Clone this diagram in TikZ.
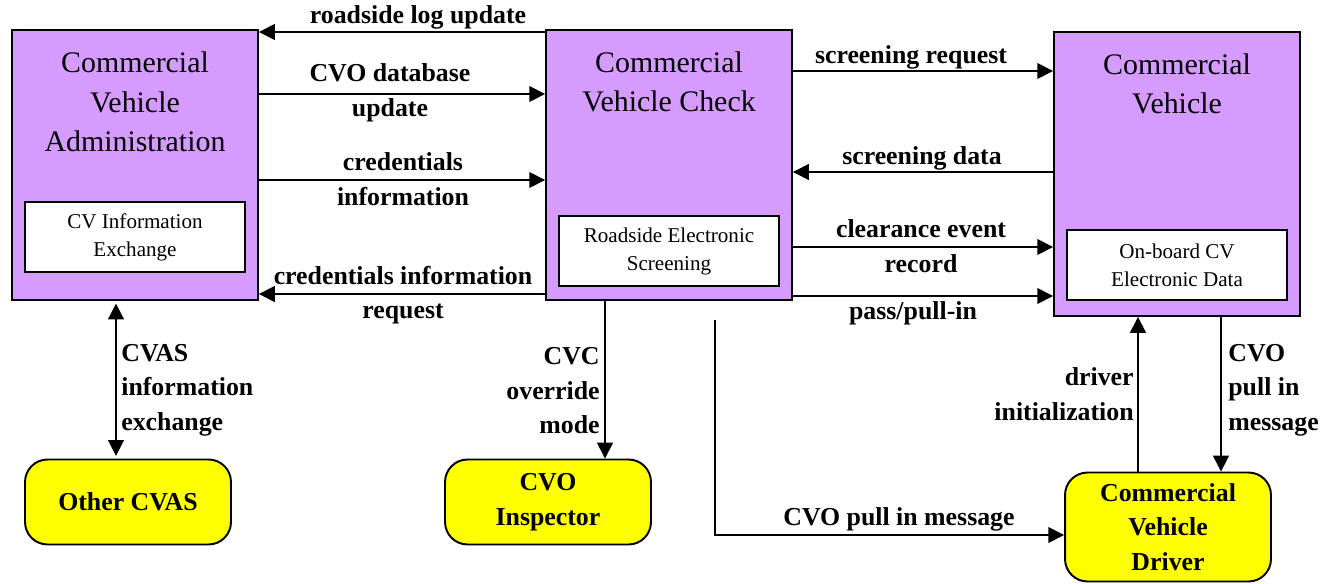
\documentclass[tikz,border=0pt]{standalone}
\usepackage{fontspec}
\setmainfont{Liberation Serif}
\usetikzlibrary{positioning}
\usetikzlibrary{arrows.meta}

\definecolor{cvpurple}{RGB}{213,155,255}
\definecolor{cvyellow}{RGB}{255,255,0}

\begin{document}
\begin{tikzpicture}[x=0.02cm, y=-0.02cm,
    subsystem/.style={draw, line width=1.1pt, fill=cvpurple, minimum width=4.92cm, minimum height=5.4cm, inner sep=0pt},
    package/.style={draw, line width=1pt, fill=white, minimum width=4.4cm, minimum height=1.39cm, inner sep=0pt, align=center, font=\fontsize{12}{15.9}\selectfont},
    boxtitle/.style={align=center, inner sep=0pt, font=\fontsize{17}{22.4}\selectfont},
    terminator/.style={draw, line width=1.1pt, fill=cvyellow, rounded corners=0.45cm, minimum width=4.12cm, minimum height=1.7cm, inner sep=0pt, align=center, font=\bfseries\fontsize{14.7}{19.6}\selectfont},
    flow/.style={line width=0.85pt, -{Triangle[length=9pt,width=9pt]}},
    flowlabel/.style={align=center, inner sep=0pt, font=\bfseries\fontsize{14.7}{19.6}\selectfont}]

    \useasboundingbox (0,0) rectangle (1337,584);

    % subsystems
    \node [subsystem] (cva) at (135,165) {};
    \node [subsystem] (cvc) at (669,165) {};
    \node [subsystem, minimum height=5.68cm] (cv) at (1177,174) {};

    \node [boxtitle] (cvatitle) at (135,102) {Commercial\\Vehicle\\Administration};
    \node [boxtitle] (cvctitle) at (669,82) {Commercial\\Vehicle Check};
    \node [boxtitle] (cvtitle) at (1177,84) {Commercial\\Vehicle};

    \node [package] (cvie) at (135,237) {CV Information\\Exchange};
    \node [package] (res) at (669,251) {Roadside Electronic\\Screening};
    \node [package] (obd) at (1177,265) {On-board CV\\Electronic Data};

    % terminators
    \node [terminator] (other) at (128,502) {Other CVAS};
    \node [terminator] (insp) at (548,502) {CVO\\Inspector};
    \node [terminator, minimum height=2.18cm] (drv) at (1168,527) {Commercial\\Vehicle\\Driver};

    \coordinate (pullstart) at (715,320);

    % flows between CVA and CVC
    \draw [flow] (cvc.west |- 0,32) -- (cva.east |- 0,32);
    \node [flowlabel] at (418,17) {roadside log update};
    \draw [flow] (cva.east |- 0,94) -- (cvc.west |- 0,94);
    \node [flowlabel] at (390,93) {CVO database\\update};
    \draw [flow] (cva.east |- 0,180) -- (cvc.west |- 0,180);
    \node [flowlabel] at (403,179) {credentials\\information};
    \draw [flow] (cvc.west |- 0,294) -- (cva.east |- 0,294);
    \node [flowlabel] at (403,295) {credentials information\\request};

    % flows between CVC and CV
    \draw [flow] (cvc.east |- 0,71) -- (cv.west |- 0,71);
    \node [flowlabel] at (911,57) {screening request};
    \draw [flow] (cv.west |- 0,172) -- (cvc.east |- 0,172);
    \node [flowlabel] at (922,158) {screening data};
    \draw [flow] (cvc.east |- 0,247) -- (cv.west |- 0,247);
    \node [flowlabel] at (921,246) {clearance event\\record};
    \draw [flow] (cvc.east |- 0,296) -- (cv.west |- 0,296);
    \node [flowlabel] at (913,313) {pass/pull-in};

    % vertical flows
    \draw [flow, {Triangle[length=9pt,width=9pt]}-{Triangle[length=9pt,width=9pt]}, shorten <=1.5pt, shorten >=1.5pt] (cva.south -| 116,0) -- (other.north -| 116,0);
    \node [flowlabel, align=left, anchor=west] at (121,390) {CVAS\\information\\exchange};

    \draw [flow] (cvc.south -| 605,0) -- (insp.north -| 605,0);
    \node [flowlabel, align=right, anchor=east] at (600,391) {CVC\\override\\mode};

    \draw [flow] (pullstart) |- (drv.west |- 0,535);
    \node [flowlabel] at (899,519) {CVO pull in message};

    \draw [flow] (drv.north -| 1138,0) -- (cv.south -| 1138,0);
    \node [flowlabel, align=right, anchor=east] at (1134,394) {driver\\initialization};

    \draw [flow] (cv.south -| 1221,0) -- (drv.north -| 1221,0);
    \node [flowlabel, align=left, anchor=west] at (1228,390) {CVO\\pull in\\message};

\end{tikzpicture}
\end{document}
